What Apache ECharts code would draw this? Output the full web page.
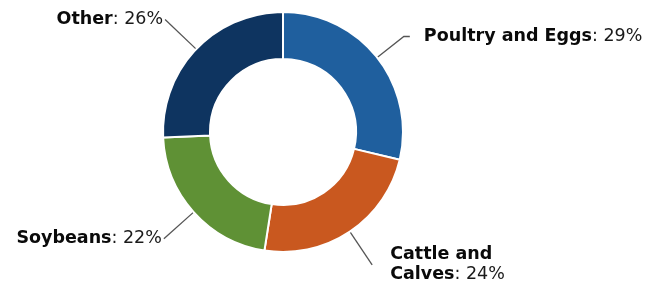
<!DOCTYPE html>
<html>
<head>
<meta charset="utf-8">
<script src="https://cdn.jsdelivr.net/npm/echarts@6/dist/echarts.min.js"></script>
<style>
  html, body { margin: 0; padding: 0; background: #fff; }
  #main { width: 649px; height: 284px; }
</style>
</head>
<body>
<div id="main"></div>
<script>
var names = ['Poultry and Eggs', 'Cattle and\nCalves', 'Soybeans', 'Other'];
var shares = [29, 24, 22, 26];
var colors = ['#1f5f9e', '#c9581f', '#5f9135', '#0e3460'];
// label line lengths per slice
var lineLen = [34, 40, 40, 43];
var lineLen2 = [6, 0, 0, 0];
var labelGap = [14, 18, 2, 2];

var chart = echarts.init(document.getElementById('main'));

var data = names.map(function (n, i) {
    return {
        name: n,
        value: shares[i],
        itemStyle: { color: colors[i] },
        labelLine: { length: lineLen[i], length2: lineLen2[i] },
        label: { distanceToLabelLine: labelGap[i] }
    };
});

option = {
    animation: false,
    series: [{
        type: 'pie',
        center: [283, 132],
        radius: [73, 120],
        startAngle: 90,
        clockwise: true,
        avoidLabelOverlap: false,
        itemStyle: {
            borderColor: '#fff',
            borderWidth: 2
        },
        label: {
            show: true,
            position: 'outside',
            fontFamily: 'DejaVu Sans',
            fontSize: 17.5,
            lineHeight: 20,
            color: '#111',
            formatter: function (p) {
                var parts = p.name.split('\n');
                var s = parts.map(function (t) { return '{b|' + t + '}'; }).join('\n');
                return s + '{v|: ' + p.value + '%}';
            },
            rich: {
                b: { fontFamily: 'DejaVu Sans', fontWeight: 'bold', fontSize: 17.5, lineHeight: 20, color: '#0a0a0a' },
                v: { fontFamily: 'DejaVu Sans', fontSize: 17.5, lineHeight: 20, color: '#1a1a1a' }
            }
        },
        labelLine: {
            show: true,
            smooth: false,
            lineStyle: { color: '#555', width: 1.3 }
        },
        data: data
    }]
};
chart.setOption(option);
</script>
</body>
</html>
